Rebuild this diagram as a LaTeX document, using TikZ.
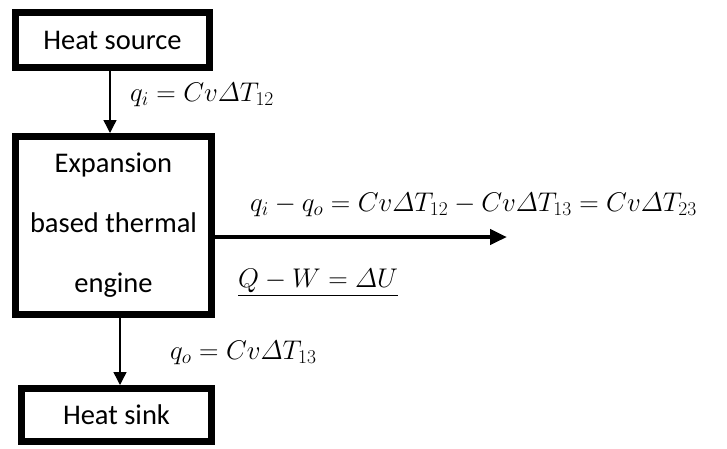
\RequirePackage{fix-cm}
\documentclass[tikz,border=0pt]{standalone}
\usepackage{amsmath}
\usepackage{fontspec}
\setmainfont{Carlito}
\newcommand\mysub[1]{_{\hbox{\fontsize{19.5}{22}\selectfont$#1$}}}
\usetikzlibrary{arrows.meta}
\begin{document}
\begin{tikzpicture}[x=1pt,y=-1pt,
  box/.style={draw=black,line width=7pt,fill=white,inner sep=0pt,align=center,font=\fontsize{28.5}{34}\selectfont},
  thin/.style={line width=1.4pt,-{Triangle[length=13pt,width=13pt]}},
  thick/.style={line width=4.5pt,-{Triangle[length=17pt,width=15pt]}},
  lab/.style={anchor=west,inner sep=0pt,font=\fontsize{27}{32}\selectfont}]
\useasboundingbox (0,0) rectangle (727,448);
\node[box,minimum width=194pt,minimum height=55pt] (src) at (112.5,40) {Heat source};
\node[box,minimum width=196pt,minimum height=178pt] (eng) at (113.5,225.5)
  {Expansion\\[26pt]based thermal\\[26pt]engine};
\node[box,minimum width=190pt,minimum height=53pt] (snk) at (116.5,415) {Heat sink};
\coordinate (out) at (507,237);
\draw[thin] ([xshift=-2.5pt]src.south) -- ([xshift=-3.5pt]eng.north);
\draw[thin] ([xshift=6.5pt]eng.south) -- ([xshift=3.5pt]snk.north);
\draw[thick] (eng.east |- out) -- (out);
\node[lab] (qi) at (130,95) {$q\mysub{i} = Cv\varDelta T\mysub{12}$};
\node[lab] (qo) at (170,353) {$q\mysub{o} = Cv\varDelta T\mysub{13}$};
\node[lab] (bal) at (250,205) {$q\mysub{i} - q\mysub{o} = Cv\varDelta T\mysub{12} - Cv\varDelta T\mysub{13} = Cv\varDelta T\mysub{23}$};
\node[lab] (law) at (238,283) {$\underline{Q - W = \varDelta U}$};
\end{tikzpicture}
\end{document}
